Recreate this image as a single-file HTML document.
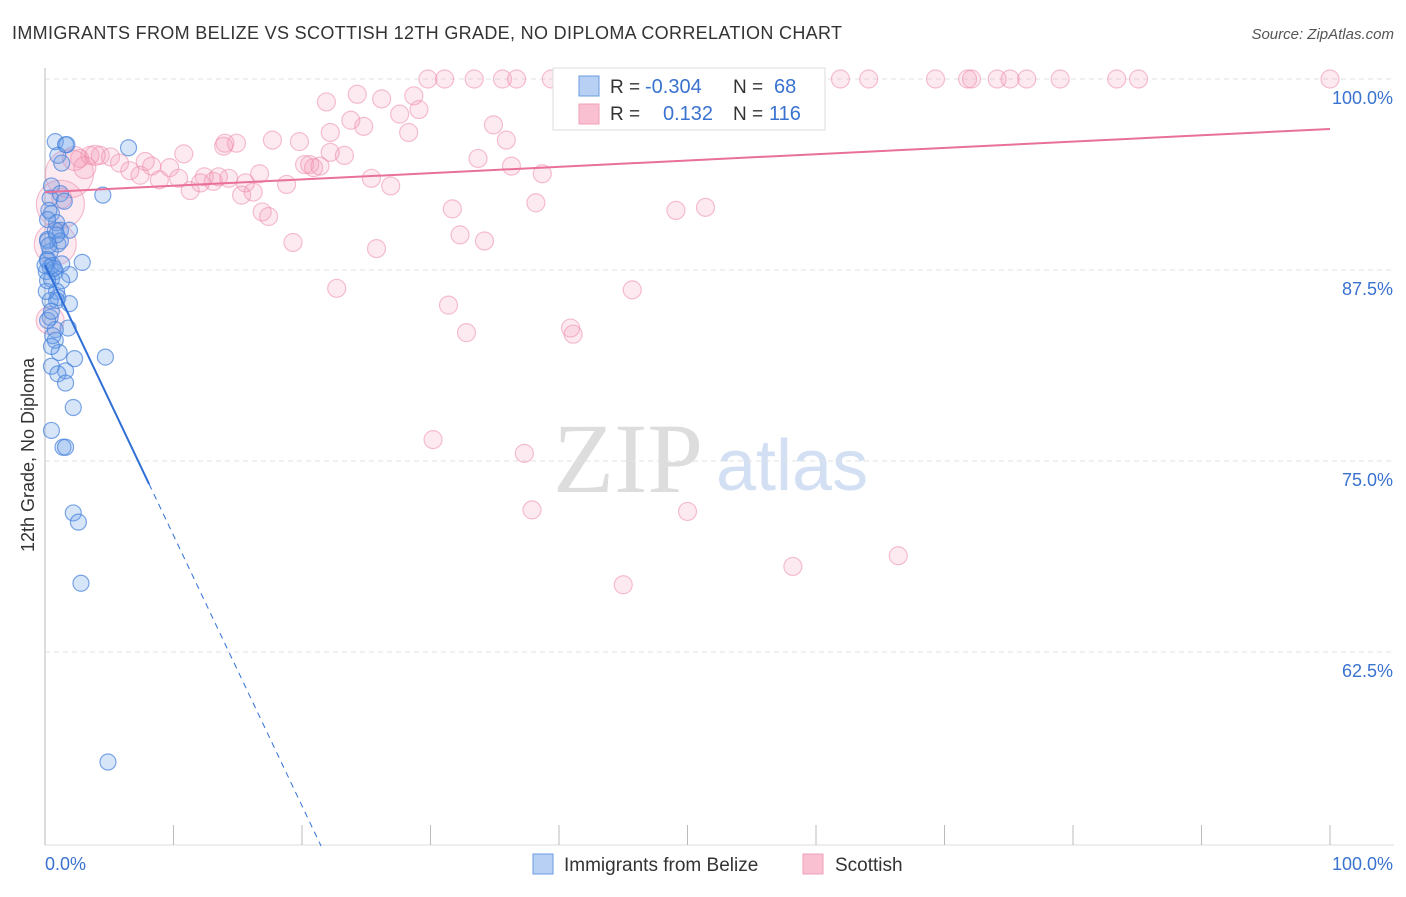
<!DOCTYPE html>
<html><head><meta charset="utf-8">
<style>
body{margin:0;background:#fff;font-family:"Liberation Sans",sans-serif;}
svg text{font-family:"Liberation Sans",sans-serif;}
</style></head>
<body>
<svg id="chart" width="1406" height="892" xmlns="http://www.w3.org/2000/svg">
<text x="12" y="39" font-size="18" fill="#333" textLength="830" lengthAdjust="spacing">IMMIGRANTS FROM BELIZE VS SCOTTISH 12TH GRADE, NO DIPLOMA CORRELATION CHART</text>
<text x="1394" y="39" font-size="15" fill="#555" text-anchor="end" font-style="italic">Source: ZipAtlas.com</text>
<g>
<text x="553" y="492" font-size="100" fill="#ddd" font-family="Liberation Serif" style="font-family:'Liberation Serif',serif">ZIP</text>
<text x="716" y="490" font-size="72" fill="#d3e0f4">atlas</text>
</g>
<g id="grid"></g>
<g id="axes"></g>
<g id="pts"></g>
<g id="lines"></g>
<text transform="translate(34,455) rotate(-90)" font-size="18" fill="#333" text-anchor="middle">12th Grade, No Diploma</text>
<g>
<rect x="553" y="68" width="272" height="62" fill="#fff" stroke="#ddd"/>
<rect x="579" y="76" width="20" height="20" fill="#b8d0f4" stroke="#6a9be0"/>
<rect x="579" y="104" width="20" height="20" fill="#f8c0d0" stroke="#f0a0b8"/>
<text x="610" y="93" font-size="19" fill="#333">R =</text>
<text x="645" y="93" font-size="20" fill="#3a72d0">-0.304</text>
<text x="733" y="93" font-size="19" fill="#333">N =</text>
<text x="774" y="93" font-size="20" fill="#3a72d0">68</text>
<text x="610" y="120" font-size="19" fill="#333">R =</text>
<text x="663" y="120" font-size="20" fill="#3a72d0">0.132</text>
<text x="733" y="120" font-size="19" fill="#333">N =</text>
<text x="769" y="120" font-size="20" fill="#3a72d0">116</text>
</g>
<g>
<rect x="533" y="854" width="20" height="20" fill="#b8d0f4" stroke="#6a9be0"/>
<text x="564" y="871" font-size="19" fill="#333">Immigrants from Belize</text>
<rect x="803" y="854" width="20" height="20" fill="#f8c0d0" stroke="#f0a0b8"/>
<text x="835" y="871" font-size="19" fill="#333">Scottish</text>
</g>
</svg>
<script>
const yTicks=[100,87.5,75,62.5];
const yTickLabels=["100.0%","87.5%","75.0%","62.5%"];
const xTickLabels=["0.0%","100.0%"];
const blueX=[0.8,1.6,1.7,1,1.3,6.5,4.5,0.5,0.4,1.2,0.5,0.9,1.2,1.9,0.2,1,0.4,0.2,2.9,0.4,0.8,1.9,0.5,1.3,0.9,1,0.4,1.8,0.8,0.8,1.1,2.3,4.7,0.5,1.6,1,1.6,2.2,0.5,1.4,1.6,2.2,2.6,2.8,4.9,0.2,0.1,0.4,0.2,0.6,0.3,0.8,0.2,0.6,1.3,0.9,0.1,0.5,1.2,0.2,1.5,0.5,0.2,1.9,0.9,0.3,0.7,0];
const blueY=[95.9,95.7,95.7,95,94.5,95.5,92.4,93,92.2,92.5,91.2,90.6,90.1,90.1,89.5,89.2,88.7,88.2,88,87.7,87.4,87.2,86.9,86.8,86.1,85.7,84.4,83.7,83.6,82.9,82.1,81.7,81.8,81.2,80.9,80.7,80.1,78.5,77,75.9,75.9,71.6,71,67,55.3,89.4,87.4,85.5,84.2,83.2,91.4,90.1,88.1,87.8,87.9,85.5,86.1,82.5,89.4,90.8,92,84.8,86.8,85.3,89.8,89.1,87.6,87.8];
const pinkX=[29.8,31.1,33.4,35.6,36.7,39.4,43,43.4,47.5,48,51,53.3,59.2,61.9,64.1,69.3,71.8,72.1,74.1,75.1,76.4,79,83.4,85.1,100,
21.9,24.3,26.2,28.7,29.1,27.6,28.3,24.8,23.8,22.2,34.9,35.9,19.8,17.7,14.9,13.9,10.8,3.5,4.3,5.1,2.7,5.8,6.6,8.3,9.7,7.4,8.9,10.4,11.3,12.4,13.1,14.3,15.6,16.2,15.3,16.9,17.4,19.3,18.8,20.2,20.9,21.4,23.3,25.4,26.9,31.7,33.7,36.3,38.2,38.7,49.1,51.4,32.3,34.2,25.8,22.7,31.4,32.8,40.9,41.1,45.7,30.2,37.3,37.9,50,45,58.2,66.4,1.9,1.2,0.8,0.4,2.3,3.1,3.9,7.8,12.1,13.5,16.7,14,20.6,22.2,1.3];
const pinkY=[100,100,100,100,100,100,100,100,100,100,100,100,100,100,100,100,100,100,100,100,100,100,100,100,100,
98.5,99,98.7,98.9,98,97.7,96.5,96.9,97.3,96.5,97,96,95.9,96,95.8,95.6,95.1,95,95,94.9,94.8,94.5,94,94.3,94.2,93.7,93.4,93.5,92.7,93.6,93.3,93.5,93.2,92.6,92.4,91.3,91,89.3,93.1,94.4,94.2,94.3,95,93.5,93,91.5,94.8,94.3,91.9,93.8,91.4,91.6,89.8,89.4,88.9,86.3,85.2,83.4,83.7,83.3,86.2,76.4,75.5,71.8,71.7,66.9,68.1,68.8,93.8,91.8,89.2,84.2,94.8,94.2,95,94.6,93.2,93.6,93.8,95.8,94.4,95.2,92.2];
const pinkR=[9,9,9,9,9,9,9,9,9,9,9,9,9,9,9,9,9,9,9,9,9,9,9,9,9,
9,9,9,9,9,9,9,9,9,9,9,9,9,9,9,9,9,9,9,9,9,9,9,9,9,9,9,9,9,9,9,9,9,9,9,9,9,9,9,9,9,9,9,9,9,9,9,9,9,9,9,9,9,9,9,9,9,9,9,9,9,9,9,9,9,9,9,9,24,24,21,14,12,11,10,9,9,9,9,9,9,9,10];
const blueLine={b0:87.83,slope:-1.77,solidEnd:8.1};
const pinkLine={b0:92.6,slope:0.0413};
const X0=45,X1=1330,Y100=79,PX125=191;
function sx(v){return X0+(X1-X0)*v/100;}
function sy(v){return Y100+(100-v)/12.5*PX125;}
const NS="http://www.w3.org/2000/svg";
function mk(t,a,p){const e=document.createElementNS(NS,t);for(const k in a)e.setAttribute(k,a[k]);p.appendChild(e);return e;}
const grid=document.getElementById('grid'),axes=document.getElementById('axes'),pts=document.getElementById('pts'),lines=document.getElementById('lines');
yTicks.forEach((v,i)=>{
 const g=mk('line',{x1:X0,x2:1394,y1:sy(v),y2:sy(v),stroke:'#e2e2e2','stroke-dasharray':'5,4'},grid);
 
 
 const t=mk('text',{x:1393,y:sy(v)+25,'font-size':18,fill:'#3a72d0','text-anchor':'end'},axes);
 t.textContent=yTickLabels[i];
 
 
});
const ax=mk('line',{x1:X0,x2:X0,y1:68,y2:845,stroke:'#bbb'},axes);


const bx=mk('line',{x1:X0,x2:1394,y1:845,y2:845,stroke:'#ddd'},axes);


for(let i=0;i<=10;i++){
 const tk=mk('line',{x1:sx(i*10),x2:sx(i*10),y1:825,y2:845,stroke:'#bbb'},axes);
 
 
}
[[0,'start',X0],[100,'end',1393]].forEach((d,i)=>{
 const t=mk('text',{x:d[2],y:870,'font-size':18,fill:'#3a72d0','text-anchor':d[1]},axes);
 t.textContent=xTickLabels[i];
 
 
});
pinkX.forEach((v,i)=>{
 const c=mk('circle',{cx:sx(v),cy:sy(pinkY[i]),r:pinkR[i],fill:'rgba(244,150,180,0.2)',stroke:'rgba(236,140,170,0.55)','stroke-width':1.2},pts);
 
 
});
blueX.forEach((v,i)=>{
 const c=mk('circle',{cx:sx(v),cy:sy(blueY[i]),r:8,fill:'rgba(110,160,235,0.28)',stroke:'rgba(70,130,220,0.7)','stroke-width':1.2},pts);
 
 
});
const by=x=>blueLine.b0+blueLine.slope*x;
const bl=mk('line',{x1:sx(0),y1:sy(by(0)),x2:sx(blueLine.solidEnd),y2:sy(by(blueLine.solidEnd)),stroke:'#2f6fd6','stroke-width':2},lines);


const xEnd=(blueLine.b0-49.8)/-blueLine.slope;
const bd=mk('line',{x1:sx(blueLine.solidEnd),y1:sy(by(blueLine.solidEnd)),x2:sx(xEnd),y2:sy(by(xEnd)),stroke:'#2f6fd6','stroke-width':1,'stroke-dasharray':'6,5'},lines);


const py=x=>pinkLine.b0+pinkLine.slope*x;
const pl=mk('line',{x1:sx(0),y1:sy(py(0)),x2:sx(100),y2:sy(py(100)),stroke:'#e8709a','stroke-width':2},lines);


</script>
</body></html>
